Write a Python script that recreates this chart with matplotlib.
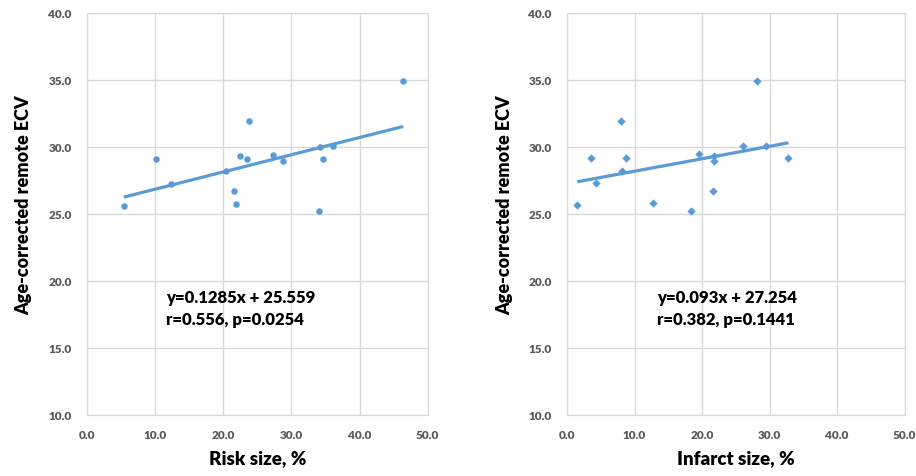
import matplotlib.pyplot as plt
import numpy as np

# risk size panel
risk_x = [5.4, 10.1, 12.3, 20.4, 21.6, 21.9, 22.4, 23.5, 23.8, 27.3, 28.7, 34.1, 34.2, 34.6, 36.1, 46.4]
risk_y = [25.6, 29.1, 27.25, 28.2, 26.7, 25.75, 29.3, 29.1, 31.95, 29.4, 28.95, 25.2, 30.0, 29.1, 30.05, 34.9]
risk_fit = (0.1285, 25.559)
risk_text = 'y=0.1285x + 25.559\nr=0.556, p=0.0254'

# infarct size panel
inf_x = [1.5, 3.6, 4.3, 8.0, 8.1, 8.8, 12.7, 18.3, 19.6, 21.6, 21.8, 21.8, 26.1, 28.2, 29.5, 32.8]
inf_y = [25.7, 29.15, 27.3, 31.95, 28.2, 29.15, 25.8, 25.2, 29.45, 26.7, 29.3, 28.95, 30.05, 34.9, 30.05, 29.15]
inf_fit = (0.093, 27.254)
inf_text = 'y=0.093x + 27.254\nr=0.382, p=0.1441'

xticks = [0, 10, 20, 30, 40, 50]
yticks = [10, 15, 20, 25, 30, 35, 40]

blue = '#5B9BD5'
grid_c = '#d9d9d9'
tick_c = '#595959'
font = 'Lato'

fig = plt.figure(figsize=(9.16, 4.77), dpi=100)
ax1 = fig.add_axes([0.095, 0.128, 0.372, 0.843])
ax2 = fig.add_axes([0.619, 0.128, 0.3686, 0.843])

panels = [
    (ax1, risk_x, risk_y, risk_fit, risk_text, 'o', 'Risk size, %', 11.6),
    (ax2, inf_x, inf_y, inf_fit, inf_text, 'D', 'Infarct size, %', 13.4),
]

for ax, xs, ys, fit, txt, mk, xlab, tx in panels:
    ax.set_xlim(0, 50)
    ax.set_ylim(10, 40)
    ax.set_xticks(xticks)
    ax.set_yticks(yticks)
    ax.set_xticklabels(['%.1f' % v for v in xticks])
    ax.set_yticklabels(['%.1f' % v for v in yticks])
    ax.grid(True, color=grid_c, linewidth=1)
    ax.set_axisbelow(True)
    for s in ax.spines.values():
        s.set_color(grid_c)
    ax.tick_params(axis='x', length=0, pad=10, colors=tick_c)
    ax.tick_params(axis='y', length=0, pad=11, colors=tick_c)
    for lab in ax.get_xticklabels() + ax.get_yticklabels():
        lab.set_fontfamily(font)
        lab.set_fontweight('heavy')
        lab.set_fontsize(8.5)

    ax.scatter(xs, ys, marker=mk, s=22 if mk == 'o' else 18, color=blue, zorder=3, linewidths=0)
    xx = np.array([min(xs), max(xs)])
    ax.plot(xx, fit[0] * xx + fit[1], color=blue, linewidth=2.3, zorder=2,
            solid_capstyle='butt')

    ax.text(tx, 18.0, txt, fontsize=12, fontweight='heavy', family=font,
            ha='left', va='center', linespacing=1.45)

    ax.set_xlabel(xlab, fontsize=13.5, fontweight='heavy', family=font)
    ax.xaxis.set_label_coords(0.5, -0.085)
    ax.set_ylabel('Age-corrected remote ECV', fontsize=13, fontweight='heavy', family=font)
    ax.yaxis.set_label_coords(-0.16, 0.525)

fig.savefig('out.png', dpi=100, facecolor='white')
